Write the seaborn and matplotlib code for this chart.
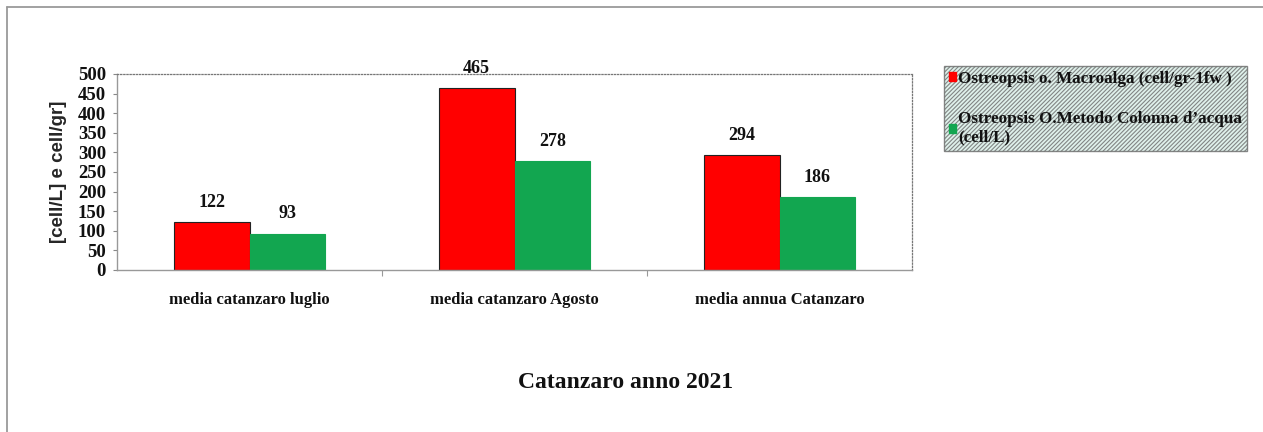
import matplotlib
matplotlib.use("Agg")
import matplotlib.pyplot as plt
import seaborn as sns
import pandas as pd
from matplotlib.lines import Line2D

# Data
categories = ["media catanzaro luglio", "media catanzaro Agosto", "media annua Catanzaro"]
series_names = [
    "Ostreopsis o. Macroalga (cell/gr-1fw )",
    "Ostreopsis O.Metodo Colonna d\u2019acqua\n(cell/L)",
]
macroalga_values = [122, 465, 294]
colonna_values = [93, 278, 186]
y_ticks = [0, 50, 100, 150, 200, 250, 300, 350, 400, 450, 500]
title_text = "Catanzaro anno 2021"
y_label = "[cell/L] e cell/gr]"

bar_colors = ["#ff0000", "#12a650"]

df = pd.DataFrame({
    "categoria": categories * 2,
    "serie": [series_names[0]] * 3 + [series_names[1]] * 3,
    "valore": macroalga_values + colonna_values,
})

sns.set_theme(style="white")
plt.rcParams["font.family"] = ["Liberation Serif", "DejaVu Serif"]
plt.rcParams["hatch.linewidth"] = 0.8
plt.rcParams["hatch.color"] = "#94a69f"

W, H = 1263, 432
fig = plt.figure(figsize=(W / 100, H / 100), dpi=100)
fig.patch.set_facecolor("white")

ax = fig.add_axes([117 / W, 1 - 270 / H, (912 - 117) / W, (270 - 74) / H])

sns.barplot(
    data=df, x="categoria", y="valore", hue="serie",
    order=categories, hue_order=series_names,
    palette=bar_colors, width=0.57, gap=0, saturation=1,
    ax=ax,
)

# Bar outlines: dark edge on the red series, matching edge on the green
for container, col in zip(ax.containers, bar_colors):
    for bar in container:
        bar.set_edgecolor("#222222" if col == bar_colors[0] else col)
        bar.set_linewidth(0.8)
    ax.bar_label(container, labels=[f"{int(round(b.get_height()))}" for b in container],
                 padding=8, fontsize=13, fontweight="bold", color="#111111")

ax.set_ylim(0, 500)
ax.set_xlim(-0.5, 2.5)
ax.set_yticks(y_ticks)
ax.set_yticklabels([str(t) for t in y_ticks])
ax.set_xlabel("")
ax.set_ylabel(y_label, family=["Liberation Sans", "DejaVu Sans"], fontweight="bold",
              fontsize=13.5, labelpad=8)

ax.tick_params(axis="y", which="major", length=3, width=0.8, color="#888888",
               direction="out", pad=5, labelsize=13.5, left=True)
ax.tick_params(axis="x", which="major", length=0, pad=16, labelsize=12)
for lab in ax.get_xticklabels() + ax.get_yticklabels():
    lab.set_fontweight("bold")
    lab.set_color("#111111")
ax.set_xticks([0.5, 1.5], minor=True)
ax.tick_params(axis="x", which="minor", length=4, width=0.8, color="#999999",
               direction="out", bottom=True)

for side in ["left", "bottom"]:
    ax.spines[side].set_color("#999999")
    ax.spines[side].set_linewidth(1.0)
for side in ["top", "right"]:
    ax.spines[side].set_color("#777777")
    ax.spines[side].set_linestyle((0, (1, 1.5)))
    ax.spines[side].set_linewidth(0.9)
ax.grid(False)

# Legend to the right of the plot, on a hatched panel
leg = ax.get_legend()
handles = leg.legend_handles
labels = [t.get_text() for t in leg.get_texts()]
leg.remove()
legend = fig.legend(
    handles, labels,
    loc="upper left", bbox_to_anchor=(935 / W, 1 - 57 / H),
    prop={"weight": "bold", "size": 12.3},
    frameon=True, fancybox=False, borderpad=0.3,
    handlelength=0.45, handleheight=0.45, handletextpad=0.1,
    labelspacing=1.45,
)
frame = legend.get_frame()
frame.set_facecolor("#d8eee6")
frame.set_edgecolor("#6a6a6a")
frame.set_linewidth(1.0)
frame.set_hatch("////////")
for h, col in zip(legend.legend_handles, bar_colors):
    h.set_facecolor(col)
    h.set_edgecolor(col)
for t in legend.get_texts():
    t.set_color("#111111")

fig.text(626 / W, 1 - 382 / H, title_text, ha="center", va="center",
         fontsize=17, fontweight="bold", color="#111111")

# Chart area border (left and top edges)
fig.add_artist(Line2D([6.5 / W, 6.5 / W], [0, 1 - 6.5 / H], transform=fig.transFigure,
                      color="#9a9a9a", linewidth=1.3))
fig.add_artist(Line2D([6.5 / W, 1], [1 - 6.5 / H, 1 - 6.5 / H], transform=fig.transFigure,
                      color="#9a9a9a", linewidth=1.3))

fig.savefig("out.png", dpi=100)
